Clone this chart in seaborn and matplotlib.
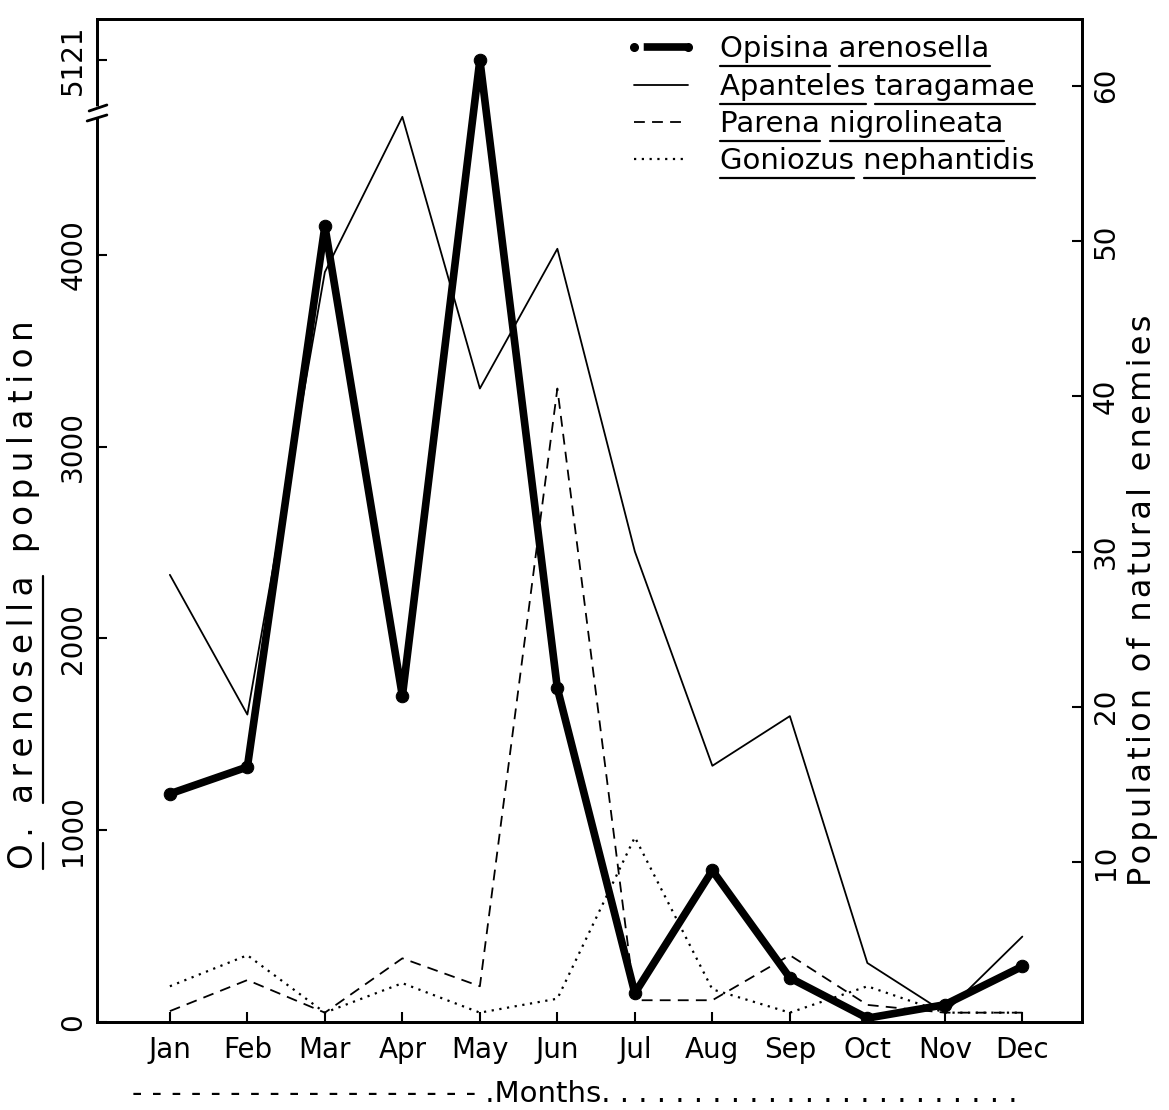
import numpy as np
import pandas as pd
import matplotlib
matplotlib.use("Agg")
import matplotlib.pyplot as plt
import seaborn as sns
from matplotlib.lines import Line2D
from matplotlib.transforms import IdentityTransform

sns.set_style("ticks")
plt.rcParams['font.family'] = ['DejaVu Sans']
for k in ("text.color", "axes.labelcolor", "xtick.color", "ytick.color"):
    plt.rcParams[k] = "black"

months = ["Jan", "Feb", "Mar", "Apr", "May", "Jun", "Jul", "Aug", "Sep", "Oct", "Nov", "Dec"]
opisina = [1190, 1330, 4150, 1700, 5121, 1740, 150, 790, 230, 20, 90, 290]
apanteles = [28.5, 19.5, 48.0, 58.0, 40.5, 49.5, 30.0, 16.2, 19.4, 3.5, 0.3, 5.2]
parena = [0.4, 2.4, 0.3, 3.8, 2.0, 40.5, 1.1, 1.1, 4.0, 0.8, 0.3, 0.3]
goniozus = [2.0, 4.0, 0.3, 2.2, 0.3, 1.2, 11.6, 1.8, 0.3, 2.0, 0.3, 0.3]

left_ticks = [0, 1000, 2000, 3000, 4000, 5121]
right_ticks = [10, 20, 30, 40, 50, 60]

df = pd.DataFrame({"x": np.arange(len(months)), "month": months,
                   "opisina": opisina, "apanteles": apanteles,
                   "parena": parena, "goniozus": goniozus})

fig = plt.figure(figsize=(11.69, 11.10), dpi=100)
ax = fig.add_axes([0.083, 0.0793, 0.8426, 0.9036])
ax2 = ax.twinx()

# broken left scale above ~4700
B, K = 4700.0, 0.753
def fwd(v):
    v = np.asarray(v, dtype=float)
    return np.where(v <= B, v, B + (v - B) * K)
def inv(u):
    u = np.asarray(u, dtype=float)
    return np.where(u <= B, u, B + (u - B) / K)
ax.set_yscale('function', functions=(fwd, inv))

sns.lineplot(data=df, x="x", y="apanteles", ax=ax2, color="black", lw=1.3,
             sort=False, legend=False)
sns.lineplot(data=df, x="x", y="parena", ax=ax2, color="black", lw=1.3,
             sort=False, legend=False, linestyle=(0, (6, 4)))
sns.lineplot(data=df, x="x", y="goniozus", ax=ax2, color="black", lw=1.6,
             sort=False, legend=False, linestyle=(0, (1, 2.5)))
sns.lineplot(data=df, x="x", y="opisina", ax=ax, color="black", lw=5.5,
             sort=False, legend=False, marker="o", markersize=9,
             markeredgecolor="black")
ax.set_zorder(ax2.get_zorder() + 1)
ax.patch.set_visible(False)

ax.set_xlim(-0.94, 11.77)
ax.set_ylim(0, 5405)
ax2.set_ylim(-0.3, 64.3)

ax.set_xticks(df["x"])
ax.set_xticklabels(months, fontsize=20)
ax.set_yticks(left_ticks)
ax.set_yticklabels([str(t) for t in left_ticks], rotation=90, va="center", fontsize=20)
ax2.set_yticks(right_ticks)
ax2.set_yticklabels([str(t) for t in right_ticks], rotation=90, va="center", fontsize=20)

for a in (ax, ax2):
    a.tick_params(direction="in", length=7, width=1.5, color="black", pad=7)
    for s in a.spines.values():
        s.set_linewidth(2)
        s.set_color("black")
ax.tick_params(axis="x", pad=10)

def spaced(s, sp):
    return sp.join(s)

THIN, HAIR = "\u2009", "\u200a"
xlab = "- " * 18 + "." + "Months" + ". " * 23
ax.set_xlabel(xlab, fontsize=21)
ax.xaxis.set_label_coords(0.49, -0.058)
ylab_left = spaced("O. arenosella population", THIN)
ax.set_ylabel(ylab_left, fontsize=23.5)
ax.yaxis.set_label_coords(-0.058, 0.426)
ylab_right = spaced("Population of natural enemies", HAIR)
ax2.set_ylabel(ylab_right, fontsize=23)
ax2.yaxis.set_label_coords(1.046, 0.42)

# axis break marks on the left spine
y1, y2 = (1022 - 117) / 1003, (1022 - 107) / 1003
ax.plot([0, 0], [y1 + 0.002, y2 - 0.002], transform=ax.transAxes, color="white", lw=4, clip_on=False, zorder=10)
ax.plot([-0.010, 0.010], [y1 - 0.004, y1 + 0.002], transform=ax.transAxes, color="black", lw=2, clip_on=False, zorder=11)
ax.plot([-0.008, 0.010], [y2 - 0.004, y2 + 0.002], transform=ax.transAxes, color="black", lw=2, clip_on=False, zorder=11)

# legend handle for the thick line: dot, gap, bar, gap, dot
LW = 5.5
g, L, G = 7 / LW, 31 / LW, 60 / LW
handles = [
    Line2D([], [], color="black", lw=LW, marker="o", markersize=5.5,
           linestyle=(L + G - g, (L, G))),
    Line2D([], [], color="black", lw=1.3),
    Line2D([], [], color="black", lw=1.3, linestyle=(0, (6, 4))),
    Line2D([], [], color="black", lw=1.6, linestyle=(0, (1, 2.5))),
]
labels = ["Opisina arenosella", "Apanteles taragamae",
          "Parena nigrolineata", "Goniozus nephantidis"]
leg = ax.legend(handles, labels, loc="upper left", bbox_to_anchor=(0.516, 1.004),
                frameon=False, fontsize=21, numpoints=2, handlelength=2.45,
                handletextpad=0.8, labelspacing=0.32, borderpad=0.2)

# underline words (drawn after layout is known)
fig.canvas.draw()
renderer = fig.canvas.get_renderer()

def underline(tobj, words, gap=3, lw=1.6):
    s = tobj.get_text()
    prop = tobj.get_fontproperties()
    bb = tobj.get_window_extent(renderer)
    rot = tobj.get_rotation() % 360
    def width(txt):
        return renderer.get_text_width_height_descent(txt, prop, ismath=False)[0]
    pos = 0
    for w in words:
        idx = s.find(w, pos)
        if idx < 0:
            continue
        end = width(s[:idx + len(w)])
        start = end - width(w)
        pos = idx + len(w)
        if abs(rot) < 1:
            xs, ys = [bb.x0 + start, bb.x0 + end], [bb.y0 - gap] * 2
        else:
            xs, ys = [bb.x1 + gap] * 2, [bb.y0 + start, bb.y0 + end]
        fig.add_artist(Line2D(xs, ys, color="black", lw=lw, transform=IdentityTransform()))

texts = leg.get_texts()
for t, lab in zip(texts, labels):
    underline(t, lab.split())
underline(ax.yaxis.label, [spaced("O", THIN), spaced("arenosella", THIN)])

fig.savefig("out.png", dpi=100)
